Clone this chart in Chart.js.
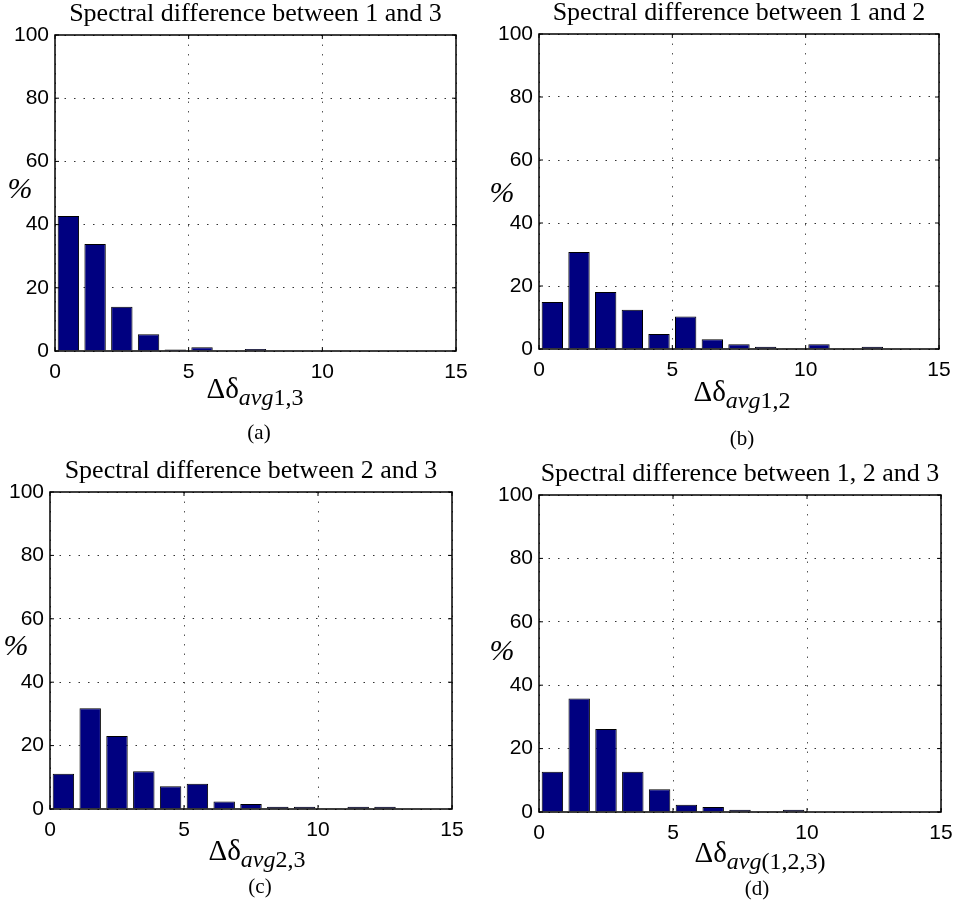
<!DOCTYPE html>
<html>
<head>
<meta charset="utf-8">
<script src="https://cdn.jsdelivr.net/npm/chart.js@4.4.0/dist/chart.umd.min.js"></script>
<style>
body { margin:0; background:#fff; width:957px; height:900px; position:relative; overflow:hidden; font-family:"Liberation Serif","Times New Roman",serif; color:#000; }
.pane { position:absolute; }
.pct { position:absolute; font-style:italic; font-size:30px; line-height:30px; transform:translate(-50%,-50%); }
.xl { position:absolute; font-size:29px; line-height:29px; white-space:nowrap; transform:translateX(-50%); }
.xl span { position:relative; top:0.3em; font-size:24px; }
.xl i { font-style:italic; }
.cap { position:absolute; font-size:21px; line-height:21px; transform:translate(-50%,-50%); }
</style>
</head>
<body>
<div class="pane" id="pa"><canvas id="ca"></canvas></div>
<div class="pane" id="pb"><canvas id="cb"></canvas></div>
<div class="pane" id="pc"><canvas id="cc"></canvas></div>
<div class="pane" id="pd"><canvas id="cd"></canvas></div>

<div class="pct" style="left:20px;top:188px">%</div>
<div class="pct" style="left:502px;top:192px">%</div>
<div class="pct" style="left:16px;top:645px">%</div>
<div class="pct" style="left:502px;top:650px">%</div>

<div class="xl" style="left:255px;top:374px">Δδ<span><i>avg</i>1,3</span></div>
<div class="xl" style="left:742px;top:377px">Δδ<span><i>avg</i>1,2</span></div>
<div class="xl" style="left:257px;top:836px">Δδ<span><i>avg</i>2,3</span></div>
<div class="xl" style="left:760px;top:838px">Δδ<span><i>avg</i>(1,2,3)</span></div>

<div class="cap" style="left:259px;top:432px">(a)</div>
<div class="cap" style="left:742px;top:438px">(b)</div>
<div class="cap" style="left:260px;top:886px">(c)</div>
<div class="cap" style="left:757px;top:888px">(d)</div>

<script>
// histogram bins of width 1, centres 0.5 .. 14.5
var binCenters = [0.5, 1.5, 2.5, 3.5, 4.5, 5.5, 6.5, 7.5, 8.5, 9.5, 10.5, 11.5, 12.5, 13.5, 14.5]
var xTicks = [0, 5, 10, 15]
var yTicks = [0, 20, 40, 60, 80, 100]

// percent of samples per bin
var pct13 = [42.7, 33.9, 14.0, 5.3, 0.5, 1.2, 0, 0.6, 0, 0, 0, 0, 0, 0, 0]
var pct12 = [14.9, 30.8, 18.1, 12.5, 4.8, 10.3, 3.1, 1.5, 0.7, 0.2, 1.5, 0.2, 0.7, 0, 0]
var pct23 = [11.1, 31.8, 23.0, 11.9, 7.2, 8.0, 2.4, 1.6, 0.7, 0.7, 0.1, 0.7, 0.7, 0, 0]
var pct123 = [12.7, 35.8, 26.2, 12.7, 7.2, 2.3, 1.6, 0.7, 0.1, 0.7, 0, 0, 0, 0, 0]

var titles = [
    'Spectral difference between 1 and 3',
    'Spectral difference between 1 and 2',
    'Spectral difference between 2 and 3',
    'Spectral difference between 1, 2 and 3'
]

// frame around the plot area, like matlab's box on
var boxPlugin = {
    id: 'box',
    afterDraw: function(chart) {
        var a = chart.chartArea
        var ctx = chart.ctx
        ctx.save()
        ctx.strokeStyle = '#000'
        ctx.lineWidth = 1.5
        ctx.strokeRect(a.left, a.top, a.right - a.left, a.bottom - a.top)
        // small inward tick marks
        ctx.lineWidth = 1
        var xs = chart.scales.x, ys = chart.scales.y
        for (var t of xTicks) {
            var px = xs.getPixelForValue(t)
            ctx.beginPath(); ctx.moveTo(px, a.bottom); ctx.lineTo(px, a.bottom - 4); ctx.stroke()
            ctx.beginPath(); ctx.moveTo(px, a.top); ctx.lineTo(px, a.top + 4); ctx.stroke()
        }
        for (var t of yTicks) {
            var py = ys.getPixelForValue(t)
            ctx.beginPath(); ctx.moveTo(a.left, py); ctx.lineTo(a.left + 4, py); ctx.stroke()
            ctx.beginPath(); ctx.moveTo(a.right, py); ctx.lineTo(a.right - 4, py); ctx.stroke()
        }
        ctx.restore()
    }
}

// place a panel so its plot area lands on L,R,T,B of the page
function makeChart(paneId, canvasId, title, values, L, R, T, B) {
    var pane = document.getElementById(paneId)
    var left = L - 55, top = T - 42
    var w = R - L + 77, h = B - T + 42 + 44
    pane.style.left = left + 'px'
    pane.style.top = top + 'px'
    var cv = document.getElementById(canvasId)
    cv.width = w
    cv.height = h

    let points = []
    for (var i = 0; i < binCenters.length; i++) {
        points.push({x: binCenters[i], y: values[i]})
    }

    return new Chart(cv, {
        type: 'bar',
        data: {
            datasets: [{
                data: points,
                backgroundColor: '#000080',
                borderColor: '#000',
                borderWidth: 1,
                barPercentage: 0.8,
                categoryPercentage: 1
            }]
        },
        options: {
            responsive: false,
            animation: false,
            layout: { padding: { left: 15, right: 22, top: 5.8, bottom: 4 } },
            plugins: {
                legend: { display: false },
                tooltip: { enabled: false },
                title: {
                    display: true,
                    text: title,
                    fullSize: false,
                    color: '#000',
                    font: { family: 'Liberation Serif', size: 26, weight: 'normal', lineHeight: 1.2 },
                    padding: { top: 0, bottom: 5 }
                }
            },
            scales: {
                x: {
                    type: 'linear',
                    min: 0, max: 15,
                    offset: false,
                    afterFit: function(s) { s.height = 40 },
                    afterBuildTicks: function(s) { s.ticks = xTicks.map(v => ({value: v})) },
                    ticks: { color: '#000', padding: 9, maxRotation: 0, font: { family: 'Liberation Sans', size: 21 } },
                    grid: { drawTicks: false, color: '#555', offset: false },
                    border: { display: false, dash: [1.5, 8] }
                },
                y: {
                    min: 0, max: 100,
                    afterFit: function(s) { s.width = 40 },
                    afterBuildTicks: function(s) { s.ticks = yTicks.map(v => ({value: v})) },
                    ticks: { color: '#000', padding: 6, font: { family: 'Liberation Sans', size: 21 } },
                    grid: { drawTicks: false, color: '#333' },
                    border: { display: false, dash: [1.5, 8] }
                }
            }
        },
        plugins: [boxPlugin]
    })
}

makeChart('pa', 'ca', titles[0], pct13, 55, 456, 35, 351)
makeChart('pb', 'cb', titles[1], pct12, 539, 939, 34, 349)
makeChart('pc', 'cc', titles[2], pct23, 50, 452, 492, 809)
makeChart('pd', 'cd', titles[3], pct123, 539, 941, 495, 812)
</script>
</body>
</html>
